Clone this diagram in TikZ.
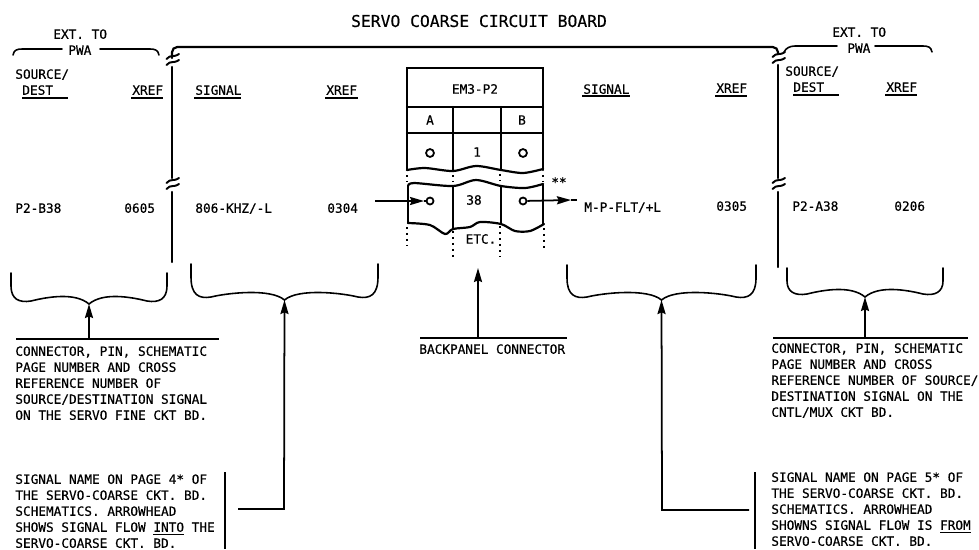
\documentclass[tikz,border=0pt]{standalone}
\usepackage{fontspec}
\newfontfamily\lettr[FakeBold=0.5]{DejaVu Sans Mono}
\usetikzlibrary{arrows.meta,calc}
\tikzset{
  every node/.style={font=\lettr\fontsize{7.25}{9.1}\selectfont, text=black, inner sep=0pt},
  lbl/.style={anchor=west, text height=5.4pt, text depth=0pt},
  blk/.style={anchor=north west, align=left},
  ttl/.style={font=\lettr\fontsize{9.3}{11}\selectfont},
  bd/.style={line width=1.25pt, line cap=round},
  thn/.style={line width=0.9pt, line cap=round},
  rl/.style={line width=1pt},
  dots/.style={line width=1.3pt, dash pattern=on 1.2pt off 2.2pt},
  arr/.style={-{Stealth[length=8pt,width=4.6pt,inset=1pt]}, line width=1pt},
  pin/.style={circle, draw, line width=1pt, minimum size=5.5pt},
}
% board break mark
\newcommand{\brk}[2]{%
\draw[thn, line width=1.1pt] (#1-5.5,#2+3) .. controls (#1-1,#2-2) and (#1+1,#2+2) .. (#1+7,#2-2);
\draw[thn, line width=1.1pt] (#1-5.5,#2+9) .. controls (#1-1,#2+4) and (#1+1,#2+8) .. (#1+7,#2+4);}
% brace, tip is left as coordinate #1
\newcommand{\brc}[5]{%
\coordinate (#1) at ({(#2+#3)/2},#5);
\draw[thn] (#2,#4) -- (#2,#4+13) .. controls (#2,#5-5) and (#2+8,#5-1) .. (#2+20,#5-3)
  .. controls (#2+36,#5-7) and ({(#2+#3)/2-14},#5-12) .. (#1)
  .. controls ({(#2+#3)/2+14},#5-12) and (#3-36,#5-7) .. (#3-20,#5-3)
  .. controls (#3-8,#5-1) and (#3,#5-5) .. (#3,#4+13) -- (#3,#4);}
\begin{document}
\begin{tikzpicture}[x=0.02cm,y=-0.02cm]
\useasboundingbox (0,0) rectangle (979,549);
\node[ttl] (title) at (479,21) {SERVO COARSE CIRCUIT BOARD};
% ext. to pwa, left
\node[lbl] (extL) at (53,34) {EXT. TO};
\node[lbl] (pwaL) at (68,50) {PWA};
\coordinate (extLa) at (13,55); \coordinate (extLb) at (159,55);
\draw[thn] (extLa) .. controls (14,50) and (17,49) .. (22,49) -- (62,49);
\draw[thn] (100,49) -- (150,49) .. controls (155,49) and (158,50) .. (extLb);
\node[lbl] (srcL) at (15,74) {SOURCE/};
\node[lbl] (dstL) at (22,90) {DEST};
\node[lbl] (xrA) at (132,90) {XREF};
\node[lbl] (sgL) at (195,90) {SIGNAL};
\node[lbl] (xrB) at (326,90) {XREF};
\draw[rl] (22,98) -- (68,98) (131,98) -- (163,98) (194,98) -- (241,98) (325,98) -- (358,98);
\node[lbl] (srcvL) at (15,208) {P2-B38};
\node[lbl] (xrvA) at (124,208) {0605};
\node[lbl] (sgvL) at (195,208) {806-KHZ/-L};
\node[lbl] (xrvB) at (327,208) {0304};
% board outline
\draw[bd, rounded corners=3pt] (172,58) |- (778,47) -- (778,54);
\draw[bd] (172,67) -- (172,178) (172,192) -- (172,262);
\draw[bd] (778,65) -- (778,178) (778,192) -- (778,267);
\brk{172}{56} \brk{172}{180} \brk{778}{54} \brk{778}{180}
% connector
\draw[bd] (407,107) |- (543,68) -- (543,107);
\draw[bd] (407,107) -- (543,107) (407,133) -- (543,133);
\draw[bd] (407,107) -- (407,170) (453,107) -- (453,171) (501,107) -- (501,170) (543,107) -- (543,170);
\draw[bd] plot[smooth] coordinates {(407,170) (425,168) (453,171) (476,166) (501,170) (523,173) (543,169)};
\draw[bd] plot[smooth] coordinates {(408,186) (414,183) (453,186) (476,180) (501,186) (525,188) (543,184)};
\draw[bd] plot[smooth] coordinates {(408,223) (430,225) (445,234) (453,229) (470,227) (480,222) (501,224) (515,231) (530,231) (544,224)};
\draw[bd] (408,186) -- (408,223) (453,186) -- (453,229) (501,186) -- (501,224) (543,184) -- (543,224);
\draw[dots] (407,175) -- (407,181) (453,175) -- (453,181) (500,174) -- (500,181) (543,175) -- (543,181);
\draw[dots] (407,227) -- (407,246) (453,231) -- (453,257) (500,226) -- (500,256) (544,228) -- (544,250);
\node (conn) at (475,89) {EM3-P2};
\node (colA) at (430,120) {A};
\node (colB) at (522,120) {B};
\node[pin, minimum size=4.5pt] (pinA) at (430,153) {};
\node (pinN) at (477,152) {1};
\node[pin, minimum size=4.5pt] (pinB) at (523,153) {};
\node (pinM) at (474,200) {38};
\node[pin, minimum size=4pt] (holeA) at (430,201) {};
\node[pin, minimum size=4pt] (holeB) at (523,201) {};
\node (etc) at (481,239) {ETC.};
\node (stars) at (559,182) {**};
\coordinate (inS) at (375,201); \coordinate (inH) at (424,201);
\coordinate (outH) at (571,200); \coordinate (outE) at (577,200);
\draw[arr] (inS) -- (inH);
\draw[rl] (inH) -- (holeA);
\draw[arr] (holeB) -- (outH);
\draw[rl] (outH) -- (outE);
% right side columns
\node[lbl] (sgR) at (583,89) {SIGNAL};
\node[lbl] (xrC) at (716,88) {XREF};
\node[lbl] (srcR) at (785,71) {SOURCE/};
\node[lbl] (dstR) at (793,87) {DEST};
\node[lbl] (xrD) at (886,87) {XREF};
\draw[rl] (582,96) -- (630,96) (715,96) -- (747,96) (793,95) -- (839,95) (885,95) -- (917,95);
\node[lbl] (sgvR) at (584,207) {M-P-FLT/+L};
\node[lbl] (xrvC) at (716,206) {0305};
\node[lbl] (srcvR) at (792,206) {P2-A38};
\node[lbl] (xrvD) at (894,206) {0206};
% ext. to pwa, right
\node[lbl] (extR) at (832,32) {EXT. TO};
\node[lbl] (pwaR) at (847,48) {PWA};
\coordinate (extRa) at (784,52); \coordinate (extRb) at (932,52);
\draw[thn] (extRa) .. controls (786,48) and (790,46) .. (795,46) -- (837,46);
\draw[thn] (875,46) -- (923,46) .. controls (928,46) and (931,47) .. (extRb);
% braces
\brc{tipA}{11}{167}{273}{304}
\brc{tipB}{191}{378}{264}{300}
\brc{tipC}{567}{756}{265}{300}
\brc{tipD}{787}{943}{268}{297}
% notes
\coordinate (ruleAa) at (16,339); \coordinate (ruleAb) at (219,339);
\coordinate (ruleCa) at (420,338); \coordinate (ruleCb) at (567,338);
\coordinate (ruleDa) at (773,338); \coordinate (ruleDb) at (968,338);
\draw[rl] (ruleAa) -- (ruleAb) (ruleCa) -- (ruleCb) (ruleDa) -- (ruleDb);
\coordinate (stemA) at (89,339); \coordinate (stemD) at (865,338);
\coordinate (stemC) at (478,338); \coordinate (tipE) at (478,268);
\draw[arr] (stemA) -- (tipA);
\draw[arr] (stemD) -- (tipD);
\draw[arr] (stemC) -- (tipE);
\node[lbl] (bpc) at (419,349) {BACKPANEL CONNECTOR};
\node[blk] (noteA) at (15,346) {CONNECTOR, PIN, SCHEMATIC\\PAGE NUMBER AND CROSS\\REFERENCE NUMBER OF\\SOURCE/DESTINATION SIGNAL\\ON THE SERVO FINE CKT BD.};
\node[blk] (noteD) at (771,343) {CONNECTOR, PIN, SCHEMATIC\\PAGE NUMBER AND CROSS\\REFERENCE NUMBER OF SOURCE/\\DESTINATION SIGNAL ON THE\\CNTL/MUX CKT BD.};
\node[blk] (noteB) at (15,474) {SIGNAL NAME ON PAGE 4* OF\\THE SERVO-COARSE CKT. BD.\\SCHEMATICS. ARROWHEAD\\SHOWS SIGNAL FLOW \underline{INTO} THE\\SERVO-COARSE CKT. BD.};
\node[blk] (noteE) at (771,472) {SIGNAL NAME ON PAGE 5* OF\\THE SERVO-COARSE CKT. BD.\\SCHEMATICS. ARROWHEAD\\SHOWNS SIGNAL FLOW IS \underline{FROM}\\SERVO-COARSE CKT. BD.};
% note leaders
\coordinate (barBa) at (225,472); \coordinate (barBb) at (225,549);
\coordinate (barEa) at (755,472); \coordinate (barEb) at (755,549);
\draw[rl] (barBa) -- (barBb) (barEa) -- (barEb);
\coordinate (elbB) at (284,509); \coordinate (startB) at (238,509);
\coordinate (elbE) at (662,510); \coordinate (startE) at (749,510);
\draw[arr] (startB) -- (elbB) -- (tipB);
\draw[arr] (startE) -- (elbE) -- (tipC);
\end{tikzpicture}
\end{document}
